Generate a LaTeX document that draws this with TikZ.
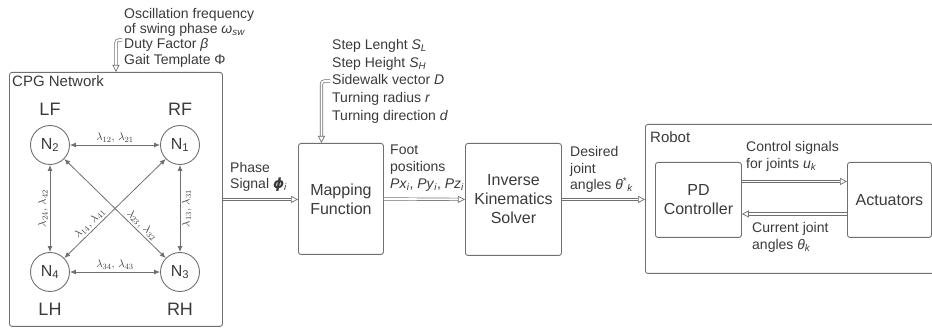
\documentclass[tikz,border=0pt]{standalone}
\usepackage{fontspec}
\setmainfont{Liberation Sans}
\newfontfamily\dvfont{DejaVu Sans}
\usetikzlibrary{arrows.meta,calc}
\definecolor{lc}{HTML}{707070}
\definecolor{tc}{HTML}{3A3A3A}
\newcommand\isub[1]{\textsubscript{\itshape #1}}
\newcommand\nsub[1]{\textsubscript{#1}}
\begin{document}
\begin{tikzpicture}[x=1pt,y=-1pt,
 box/.style={draw=lc, line width=0.9pt, rounded corners=2.5pt, inner sep=0pt, anchor=north west, text=tc, font=\fontsize{16}{19}\selectfont, align=center},
 ann/.style={align=left, text=tc, inner sep=0pt, anchor=north west},
 osc/.style={draw=lc, line width=0.9pt, circle, minimum size=39pt, inner sep=0pt, font=\fontsize{16}{19}\selectfont, text=tc},
 leg/.style={font=\fontsize{18}{20}\selectfont, text=tc, inner sep=0pt, anchor=base},
 lam/.style={draw=lc, line width=0.8pt, {Latex[length=6pt,width=5pt]}-{Latex[length=6pt,width=5pt]}},
 laml/.style={font=\fontsize{11}{13}\selectfont, text=tc, inner sep=1.5pt},
 dbl/.style={draw=lc, line width=0.7pt, double=white, double distance=1.8pt, -{Triangle[open,length=7pt,width=7pt]}},
 ttl/.style={font=\fontsize{15}{18}\selectfont, text=tc, inner sep=0pt, anchor=base west},
]
\useasboundingbox (0,0) rectangle (932,328);
\clip (0,0) rectangle (932,328);

% main boxes
\node[box, minimum width=213pt, minimum height=254pt] (cpg) at (9,72) {};
\node[box, minimum width=85pt, minimum height=111pt] (map) at (298,143) {Mapping\\Function};
\node[box, minimum width=96pt, minimum height=112pt] (ik) at (465,143) {Inverse\\Kinematics\\Solver};
\node[box, minimum width=300pt, minimum height=149pt] (robot) at (645,124) {};
\node[box, minimum width=86pt, minimum height=75pt] (pd) at (655,162) {PD\\Controller};
\node[box, minimum width=84pt, minimum height=75pt] (act) at (847,162) {Actuators};

% titles
\node[ttl] (cpgt) at (12,87) {CPG Network};
\node[ttl] (robt) at (650,143) {Robot};

% oscillators
\node[osc] (n2) at (50,145) {N\nsub{2}};
\node[osc] (n1) at (180,145) {N\nsub{1}};
\node[osc] (n4) at (50,272) {N\nsub{4}};
\node[osc] (n3) at (180,272) {N\nsub{3}};
\node[leg] (lf) at (50,116) {LF};
\node[leg] (rf) at (180,116) {RF};
\node[leg] (lh) at (50,316) {LH};
\node[leg] (rh) at (180,316) {RH};

\draw[lam] (n2) -- node[laml, above] {$\lambda_{12},\,\lambda_{21}$} (n1);
\draw[lam] (n4) -- node[laml, above] {$\lambda_{34},\,\lambda_{43}$} (n3);
\draw[lam] (n2) -- node[laml, rotate=90, anchor=south] {$\lambda_{24},\,\lambda_{42}$} (n4);
\draw[lam] (n1) -- node[laml, rotate=90, anchor=north] {$\lambda_{13},\,\lambda_{31}$} (n3);
\draw[lam] (n4) -- node[laml, pos=0.3, sloped, above] {$\lambda_{14},\,\lambda_{41}$} (n1);
\draw[lam] (n2) -- node[laml, pos=0.72, sloped, above] {$\lambda_{23},\,\lambda_{32}$} (n3);

% annotations
\node[ann, font=\fontsize{14}{15.3}\selectfont] (cpgin) at (124,8) {Oscillation frequency\\of swing phase \textit{ω}\isub{sw}\\Duty Factor \textit{β}\\Gait Template Φ};
\node[ann, font=\fontsize{14}{17.7}\selectfont] (mapin) at (332,39) {Step Lenght \textit{S}\isub{L}\\Step Height \textit{S}\isub{H}\\Sidewalk vector \textit{D}\\Turning radius \textit{r}\\Turning direction \textit{d}};
\node[ann, font=\fontsize{14}{16}\selectfont] (phase) at (230,162) {Phase\\Signal {\dvfont\bfseries\itshape ϕ}\isub{i}};
\node[ann, font=\fontsize{14}{17}\selectfont] (foot) at (390,145) {Foot\\positions\\\textit{Px}\isub{i}, \textit{Py}\isub{i}, \textit{Pz}\isub{i}};
\node[ann, font=\fontsize{14}{16.7}\selectfont] (des) at (570,146) {Desired\\joint\\angles \textit{θ}\textsuperscript{*}\isub{k}};
\node[ann, font=\fontsize{14}{17}\selectfont] (ctl) at (746,141) {Control signals\\for joints \textit{u}\isub{k}};
\node[ann, font=\fontsize{14}{17}\selectfont] (cur) at (752,222) {Current joint\\angles \textit{θ}\isub{k}};

% input arrows
\coordinate (cpgsrc) at (122,40);
\coordinate (mapsrc) at (330,81);
\draw[dbl, rounded corners=3pt] (cpgsrc) -| (cpg.north);
\draw[dbl, rounded corners=3pt] (mapsrc) -| ([xshift=-19.5pt]map.north);

% flow arrows
\draw[dbl] (cpg.east) -- (cpg.east -| map.west);
\draw[dbl] (map.east) -- (ik.west);
\draw[dbl] (ik.east) -- (ik.east -| robot.west);
\draw[dbl] ([yshift=18.5pt]pd.east) -- ([yshift=18.5pt]pd.east -| act.west);
\draw[dbl] ([yshift=-14pt]act.west) -- ([yshift=-14pt]act.west -| pd.east);
\end{tikzpicture}
\end{document}
